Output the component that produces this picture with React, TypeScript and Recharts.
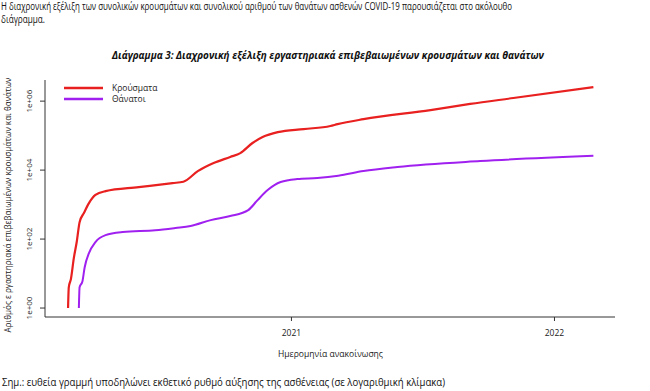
import { CartesianGrid, Line, LineChart, XAxis, YAxis } from "recharts";

// Greece, cumulative confirmed cases / deaths
const caseDates = [
  "2020-02-26", "2020-02-27", "2020-03-01", "2020-03-05", "2020-03-09", "2020-03-13",
  "2020-03-19", "2020-03-26", "2020-04-04", "2020-04-18", "2020-06-03", "2020-07-20",
  "2020-08-04", "2020-08-24", "2020-09-15", "2020-10-08", "2020-10-22", "2020-11-08",
  "2020-11-22", "2020-12-13", "2021-01-18", "2021-02-24", "2021-03-06", "2021-04-11",
  "2021-07-13", "2021-09-06", "2021-11-05", "2022-02-24",
];
const caseValues = [
  1, 4, 7, 28, 82, 310, 570, 1100, 1900, 2450, 3200, 4200, 4600, 9300, 16000, 24000, 31000,
  61000, 91000, 126000, 155000, 190000, 215000, 300000, 550000, 830000, 1230000, 2550000,
];

const deathDates = [
  "2020-03-12", "2020-03-13", "2020-03-17", "2020-03-20", "2020-03-26", "2020-04-04",
  "2020-04-18", "2020-05-12", "2020-06-26", "2020-07-24", "2020-08-14", "2020-09-11",
  "2020-10-08", "2020-11-02", "2020-11-15", "2020-11-29", "2020-12-17", "2021-01-09",
  "2021-02-06", "2021-03-07", "2021-04-11", "2021-05-28", "2021-09-20", "2022-02-24",
];
const deathValues = [
  1, 4, 6, 15, 39, 82, 130, 160, 180, 210, 240, 355, 465, 690, 1350, 2640, 4500, 5500, 5900,
  6900, 9400, 12300, 18300, 26000,
];

const yTicks = [1, 100, 10000, 1000000];
const yTickLabels = ["1e+00", "1e+02", "1e+04", "1e+06"];
const xTickDates = ["2021-01-01", "2022-01-01"];
const xTickLabels = ["2021", "2022"];
const xDomainDates = ["2020-01-25", "2022-03-26"];

const seriesNames = ["Κρούσματα", "Θάνατοι"];
const COLORS = ["#e8201f", "#a020f0"];

const ts = (d: string) => {
  const [y, m, day] = d.split("-").map(Number);
  return Date.UTC(y, m - 1, day);
};

const casesData = caseDates.map((d, i) => ({ t: ts(d), v: caseValues[i] }));
const deathsData = deathDates.map((d, i) => ({ t: ts(d), v: deathValues[i] }));

const FONT = "'Open Sans', 'DejaVu Sans', sans-serif";
const TXT = "#222222";

function YTick(props: any) {
  const { y, payload } = props;
  const idx = yTicks.indexOf(payload.value);
  return (
    <text
      x={0}
      y={0}
      transform={`translate(32, ${y}) rotate(-90)`}
      textAnchor="middle"
      fontSize={8}
      fontFamily={FONT}
      fill={TXT}
    >
      {idx >= 0 ? yTickLabels[idx] : ""}
    </text>
  );
}

function XTick(props: any) {
  const { x, payload } = props;
  const idx = xTickDates.map(ts).indexOf(payload.value);
  return (
    <text x={x} y={336} textAnchor="middle" fontSize={8.5} fontFamily={FONT} fill={TXT}>
      {idx >= 0 ? xTickLabels[idx] : ""}
    </text>
  );
}

export default function App() {
  return (
    <div style={{ position: "absolute", left: 0, top: 0, width: 650, height: 391, background: "#fff" }}>
      <LineChart
        width={650}
        height={391}
        margin={{ top: 80, right: 35, left: 0, bottom: 44 }}
      >
        <CartesianGrid stroke="none" vertical={false} horizontal={false} />
        <XAxis
          type="number"
          dataKey="t"
          domain={xDomainDates.map(ts)}
          ticks={xTickDates.map(ts)}
          allowDataOverflow
          height={30}
          stroke="#333"
          tickSize={4}
          tick={<XTick />}
        />
        <YAxis
          type="number"
          scale="log"
          domain={[0.55, 4.1e6]}
          ticks={yTicks}
          allowDataOverflow
          width={45}
          stroke="#333"
          tickSize={5}
          tick={<YTick />}
        />
        <Line
          data={casesData}
          dataKey="v"
          type="monotone"
          stroke={COLORS[0]}
          strokeWidth={2.2}
          dot={false}
          isAnimationActive={false}
        />
        <Line
          data={deathsData}
          dataKey="v"
          type="monotone"
          stroke={COLORS[1]}
          strokeWidth={2}
          dot={false}
          isAnimationActive={false}
        />
      </LineChart>

      <svg
        width={650}
        height={391}
        style={{ position: "absolute", left: 0, top: 0, pointerEvents: "none" }}
        fontFamily={FONT}
      >
        <text x={1} y={10} fontSize={10} fill="#111" textLength={511} lengthAdjust="spacingAndGlyphs">
          Η διαχρονική εξέλιξη των συνολικών κρουσμάτων και συνολικού αριθμού των θανάτων ασθενών COVID-19 παρουσιάζεται στο ακόλουθο
        </text>
        <text x={1} y={23} fontSize={10} fill="#111" textLength={44} lengthAdjust="spacingAndGlyphs">
          διάγραμμα.
        </text>

        <text
          x={112}
          y={59}
          fontSize={10.5}
          fontWeight="bold"
          fontStyle="italic"
          fill="#111"
          textLength={432}
          lengthAdjust="spacingAndGlyphs"
        >
          Διάγραμμα 3: Διαχρονική εξέλιξη εργαστηριακά επιβεβαιωμένων κρουσμάτων και θανάτων
        </text>

        {seriesNames.map((name, i) => (
          <g key={name}>
            <line x1={64} x2={103} y1={88 + i * 11} y2={88 + i * 11} stroke={COLORS[i]} strokeWidth={2.5} />
            <text x={112} y={91 + i * 11} fontSize={8.5} fill={TXT}>
              {name}
            </text>
          </g>
        ))}

        <text
          x={0}
          y={0}
          transform="translate(11, 205) rotate(-90)"
          textAnchor="middle"
          fontSize={8.5}
          fill={TXT}
          textLength={255}
          lengthAdjust="spacingAndGlyphs"
        >
          Αριθμός ε ργαστηριακά επιβεβαιωμένων κρουσμάτων και θανάτων
        </text>

        <text x={278} y={357} fontSize={8.5} fill={TXT} textLength={105} lengthAdjust="spacingAndGlyphs">
          Ημερομηνία ανακοίνωσης
        </text>

        <text x={2} y={386} fontSize={10} fill="#111" textLength={443} lengthAdjust="spacingAndGlyphs">
          Σημ.: ευθεία γραμμή υποδηλώνει εκθετικό ρυθμό αύξησης της ασθένειας (σε λογαριθμική κλίμακα)
        </text>
      </svg>
    </div>
  );
}
